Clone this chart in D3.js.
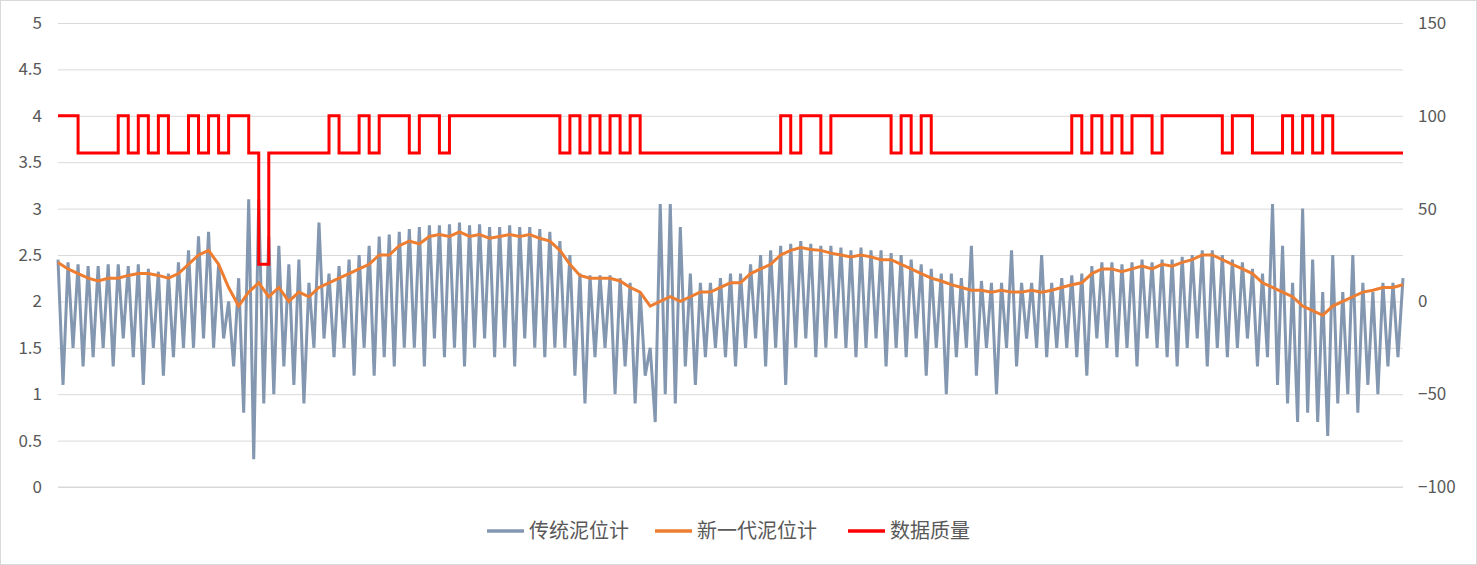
<!DOCTYPE html>
<html><head><meta charset="utf-8">
<script src="https://cdn.jsdelivr.net/npm/d3@7"></script>
<style>body{margin:0;background:#fff}</style></head>
<body><svg id="c" width="1477" height="565"></svg>
<script>
const leftTicks=[0,0.5,1,1.5,2,2.5,3,3.5,4,4.5,5];
const rightTicks=[-100,-50,0,50,100,150];
const seriesNames=["传统泥位计","新一代泥位计","数据质量"];
const orange=[2.42,2.35,2.3,2.25,2.22,2.25,2.25,2.28,2.3,2.3,
2.28,2.25,2.3,2.4,2.5,2.55,2.4,2.15,
1.95,2.1,2.2,2.05,2.15,2.0,2.1,
2.05,2.15,2.2,2.25,2.3,2.35,2.4,2.5,2.5,2.6,
2.65,2.62,2.7,2.72,2.7,2.75,2.7,2.72,2.68,2.7,2.72,2.7,2.72,2.68,2.65,
2.55,2.4,2.28,2.25,2.25,2.25,2.22,2.15,2.1,
1.95,2.0,2.05,2.0,2.05,2.1,
2.1,2.15,2.2,2.2,2.3,2.35,2.4,2.5,2.55,2.58,2.56,2.55,2.52,2.5,2.48,
2.5,2.48,2.45,2.45,2.4,2.35,2.3,2.25,2.22,2.18,2.15,2.12,2.12,2.1,2.12,2.1,2.1,2.12,2.1,2.12,
2.15,2.18,2.2,2.3,2.35,2.35,2.32,2.35,2.38,2.35,2.4,2.38,2.42,2.45,2.5,2.5,2.45,2.4,2.35,2.3,
2.2,2.15,2.1,2.05,1.95,1.9,1.85,1.95,2.0,2.05,2.1,2.12,2.15,2.15,2.18];
const grayHi=[2.45,2.42,2.4,2.38,2.38,2.4,2.4,2.38,2.4,2.35,
2.32,2.3,2.42,2.55,2.7,2.75,2.4,2.0,
2.25,3.1,3.1,2.7,2.6,2.4,2.45,
2.2,2.85,2.3,2.38,2.45,2.5,2.6,2.7,2.72,2.75,
2.78,2.8,2.82,2.82,2.83,2.85,2.82,2.83,2.8,2.8,2.82,2.8,2.8,2.78,2.75,
2.65,2.5,2.3,2.28,2.28,2.28,2.25,2.2,2.1,
1.5,3.05,3.05,2.8,2.3,2.2,
2.2,2.25,2.3,2.3,2.4,2.5,2.55,2.6,2.62,2.65,2.62,2.6,2.6,2.58,2.55,
2.58,2.55,2.55,2.52,2.5,2.45,2.4,2.35,2.3,2.3,2.25,2.6,2.22,2.2,2.2,2.55,2.2,2.2,2.5,2.2,
2.25,2.28,2.3,2.38,2.42,2.42,2.4,2.42,2.45,2.42,2.45,2.45,2.48,2.5,2.55,2.55,2.5,2.45,2.42,2.35,
2.3,3.05,2.6,2.2,3.0,2.45,2.1,2.5,2.1,2.5,2.2,2.1,2.2,2.2,2.25];
const grayLo=[1.1,1.5,1.3,1.4,1.5,1.3,1.6,1.4,1.1,1.5,
1.2,1.4,1.5,1.5,1.6,1.5,1.6,1.3,
0.8,0.3,0.9,1.0,1.3,1.1,0.9,
1.5,1.6,1.4,1.5,1.2,1.5,1.2,1.4,1.3,1.5,
1.5,1.3,1.6,1.4,1.5,1.3,1.5,1.6,1.4,1.5,1.3,1.6,1.5,1.4,1.5,
1.5,1.2,0.9,1.4,1.5,1.0,1.3,0.9,1.2,
0.7,1.0,0.9,1.3,1.1,1.4,
1.5,1.4,1.3,1.5,1.6,1.3,1.5,1.1,1.5,1.6,1.4,1.5,1.6,1.5,1.4,
1.5,1.6,1.3,1.5,1.4,1.6,1.2,1.5,1.0,1.4,1.5,1.2,1.5,1.0,1.5,1.3,1.6,1.5,1.4,1.5,
1.5,1.4,1.2,1.6,1.5,1.4,1.5,1.3,1.6,1.5,1.4,1.3,1.5,1.6,1.3,1.5,1.4,1.5,1.6,1.3,
1.4,1.1,0.9,0.7,0.8,0.7,0.55,0.9,1.0,0.8,1.1,1.0,1.3,1.4,1.35];
const quality=[100,100,80,80,80,80,100,80,100,80,
100,80,80,100,80,100,80,100,100,80,20,80,80,80,80,80,80,100,80,80,
100,80,100,100,100,80,100,100,80,100,
100,100,100,100,100,100,100,100,100,100,
80,100,80,100,80,100,80,100,80,80,
80,80,80,80,80,80,80,80,80,80,
80,80,100,80,100,100,80,100,100,100,
100,100,100,80,100,80,100,80,80,80,
80,80,80,80,80,80,80,80,80,80,
80,100,80,100,80,100,80,100,100,80,
100,100,100,100,100,100,80,100,100,80,
80,80,100,80,100,80,100,80,80,80,80,80,80,80,80];

const svg=d3.select("#c");
const L=58,R=1403,T=23,B=487;
svg.append("rect").attr("x",0.5).attr("y",0.5).attr("width",1476).attr("height",564).attr("fill","#fff").attr("stroke","#d9d9d9");
const N=orange.length;
const x=d3.scaleLinear().domain([0,N-1]).range([L,R]);
const y=d3.scaleLinear().domain([0,5]).range([B,T]);
const y2=d3.scaleLinear().domain([-100,150]).range([B,T]);
const font="'Noto Sans CJK SC','Noto Sans',sans-serif";
const gl=svg.append("g").attr("transform",`translate(${L},0)`).call(d3.axisLeft(y).tickValues(leftTicks).tickSize(-(R-L)).tickFormat(d3.format("")));
gl.select(".domain").remove();
gl.selectAll("line").attr("stroke","#d9d9d9");
gl.selectAll("text").attr("x",-16).attr("fill","#595959").style("font-size","17px").style("font-family",font);
const gr=svg.append("g").attr("transform",`translate(${R},0)`).call(d3.axisRight(y2).tickValues(rightTicks).tickSize(0));
gr.select(".domain").remove();
gr.selectAll("text").attr("x",15).attr("fill","#595959").style("font-size","17px").style("font-family",font);
svg.append("line").attr("x1",L).attr("x2",R).attr("y1",B).attr("y2",B).attr("stroke","#d9d9d9");

const gray=[];
grayHi.forEach((v,i)=>{gray.push([i,v]);if(i<N-1)gray.push([i+0.5,grayLo[i]]);});
svg.append("path").datum(gray).attr("fill","none").attr("stroke","#8497b0").attr("stroke-width",3)
 .attr("d",d3.line().x(d=>x(d[0])).y(d=>y(d[1])));
svg.append("path").datum(orange).attr("fill","none").attr("stroke","#ed7d31").attr("stroke-width",3)
 .attr("d",d3.line().x((d,i)=>x(i)).y(d=>y(d)));
svg.append("path").datum(quality).attr("fill","none").attr("stroke","#ff0000").attr("stroke-width",3)
 .attr("d",d3.line().curve(d3.curveStepAfter).x((d,i)=>x(i)).y(d=>y2(d)));

const colors=["#8497b0","#ed7d31","#ff0000"];
const lx=[487,655,848];
seriesNames.forEach((n,k)=>{
 svg.append("line").attr("x1",lx[k]).attr("x2",lx[k]+37).attr("y1",531).attr("y2",531).attr("stroke",colors[k]).attr("stroke-width",3.5);
 svg.append("text").attr("x",lx[k]+42).attr("y",538).text(n).attr("fill","#595959").style("font-size","20px").style("font-family",font);
});
</script></body></html>
